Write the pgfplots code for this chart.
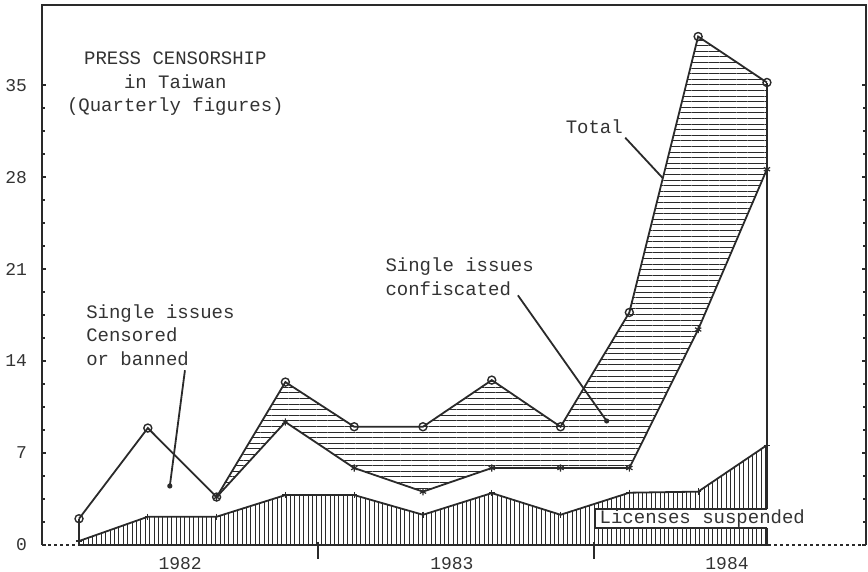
\documentclass[border=0pt]{standalone}
\usepackage{fontspec}
\setmainfont{Liberation Mono}
\usepackage{pgfplots}
\usepackage{pgfplotstable}
\pgfplotsset{compat=1.18}
\usepgfplotslibrary{fillbetween}
\usetikzlibrary{patterns.meta}
\definecolor{ink}{HTML}{2A2A2A}
\definecolor{txt}{HTML}{333333}
\pgfplotstableread{
idx total mid lic
0 2.0 2.0 0.3
1 8.9 8.9 2.15
2 3.65 3.65 2.15
3 12.4 9.36 3.8
4 9.0 5.86 3.8
5 9.0 4.06 2.3
6 12.55 5.86 3.95
7 9.0 5.86 2.3
8 17.7 5.86 3.98
9 38.7 16.4 4.06
10 35.2 28.6 7.6
}\data
\newcommand{\lbl}{\fontsize{9.5pt}{11.8pt}\selectfont}
\begin{document}
\begin{tikzpicture}
\begin{axis}[
  at={(21pt,13.5pt)}, anchor=south west,
  scale only axis, width=412pt, height=270pt,
  xmin=-0.538, xmax=11.44, ymin=0, ymax=41.1,
  axis line style={draw=none},
  ytick={0,7,14,21,28,35}, minor y tick num=3,
  xtick=\empty,
  tick align=inside, major tick length=2pt, minor tick length=1.6pt,
  tick style={ink, line width=0.7pt},
  yticklabel style={font=\fontsize{9pt}{10pt}\selectfont, text=txt, xshift=-4pt},
  /pgf/number format/assume math mode=true,
  clip=false,
]
% invisible named paths for the confiscated band
\addplot[draw=none, name path=T, forget plot] table[x=idx,y=total]{\data};
\addplot[draw=none, name path=M, forget plot] table[x=idx,y=mid]{\data};
\addplot[draw=none, pattern={Lines[angle=0,distance=2.8pt,line width=0.45pt]}, pattern color=ink] fill between[of=T and M];
% licenses suspended (bottom area)
\addplot[draw=ink, line width=0.9pt, pattern={Lines[angle=90,distance=2.2pt,line width=0.45pt]}, pattern color=ink,
  mark=+, mark size=1.6pt, mark options={solid, line width=0.6pt}] table[x=idx,y=lic]{\data} \closedcycle;
% middle line (stars)
\addplot[ink, line width=0.9pt, mark=asterisk, mark size=1.8pt, mark options={line width=0.6pt},
  skip coords between index={0}{2}] table[x=idx,y=mid]{\data};
% total
\addplot[ink, line width=0.9pt, mark=o, mark size=2pt, mark options={fill=white, line width=0.7pt}] table[x=idx,y=total]{\data};
% vertical closing lines
\addplot[ink, line width=0.9pt] coordinates {(0,0) (0,2.0)};
\addplot[ink, line width=0.9pt] coordinates {(10,7.6) (10,35.2)};

% frame
\draw[ink, line width=1.1pt] (rel axis cs:0,0) -- (rel axis cs:0,1) -- (rel axis cs:1,1) -- (rel axis cs:1,0);
\draw[ink, line width=1pt, dash pattern=on 1.5pt off 1.5pt] (rel axis cs:0,0) -- (rel axis cs:1,0);
% year separators
\draw[ink, line width=1pt] ([yshift=1.5pt]axis cs:3.47,0) -- ([yshift=-7pt]axis cs:3.47,0);
\draw[ink, line width=1pt] ([yshift=1.5pt]axis cs:7.49,0) -- ([yshift=-7pt]axis cs:7.49,0);
% year labels
\node[font=\fontsize{9pt}{10pt}\selectfont, text=txt] at (axis cs:1.47,0) [yshift=-9.5pt] {1982};
\node[font=\fontsize{9pt}{10pt}\selectfont, text=txt] at (axis cs:5.42,0) [yshift=-9.5pt] {1983};
\node[font=\fontsize{9pt}{10pt}\selectfont, text=txt] at (axis cs:9.42,0) [yshift=-9.5pt] {1984};

% licenses label box
\fill[white] (axis cs:7.5,1.29) rectangle (axis cs:10.6,2.74);
\draw[ink, line width=0.7pt] (axis cs:10,2.74) -- (axis cs:7.5,2.74) -- (axis cs:7.5,1.29) -- (axis cs:10,1.29);
\node[font=\lbl, text=txt, inner sep=0pt] at (axis cs:9.06,2.0) {Licenses suspended};

% title
\node[font=\lbl, text=txt, align=center] at (axis cs:1.40,35.1) {PRESS CENSORSHIP\\in Taiwan\\(Quarterly figures)};
% censored label
\node[font=\lbl, text=txt, align=left, anchor=west, inner sep=0pt] at (axis cs:0.10,15.98) {Single issues\\Censored\\or banned};
\draw[ink, line width=0.9pt] (axis cs:1.54,13.3) -- (axis cs:1.32,4.49);
\fill[ink] (axis cs:1.32,4.49) circle (1.3pt);
% confiscated label
\node[font=\lbl, text=txt, align=left, anchor=west, inner sep=0pt] at (axis cs:4.45,20.4) {Single issues\\confiscated};
\draw[ink, line width=0.9pt] (axis cs:6.38,19.0) -- (axis cs:7.67,9.44);
\fill[ink] (axis cs:7.67,9.44) circle (1.3pt);
% total label
\node[font=\lbl, text=txt, inner sep=0pt] at (axis cs:7.49,31.8) {Total};
\draw[ink, line width=0.9pt] (axis cs:7.94,31.0) -- (axis cs:8.49,27.9);
\end{axis}
\pgfresetboundingbox
\path[use as bounding box] (0,0) rectangle (434pt,286pt);
\end{tikzpicture}
\end{document}
